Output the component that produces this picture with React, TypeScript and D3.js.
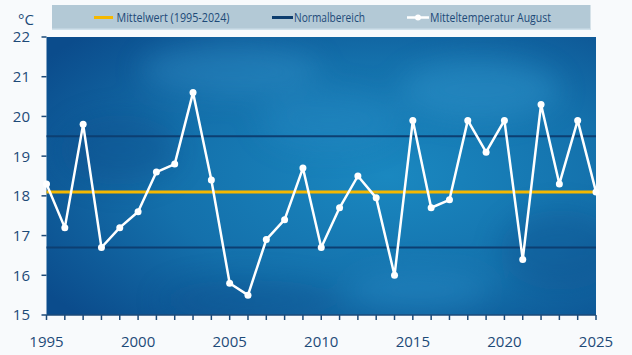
import React from "react";
import * as d3 from "d3";

const years = [1995,1996,1997,1998,1999,2000,2001,2002,2003,2004,2005,2006,2007,2008,2009,2010,2011,2012,2013,2014,2015,2016,2017,2018,2019,2020,2021,2022,2023,2024,2025];
const temps = [18.3,17.2,19.8,16.7,17.2,17.6,18.6,18.8,20.6,18.4,15.8,15.5,16.9,17.4,18.7,16.7,17.7,18.5,17.95,16.0,19.9,17.7,17.9,19.9,19.1,19.9,16.4,20.3,18.3,19.9,18.1];
const meanValue = [18.1];
const normalRange = [16.7, 19.5];
const yTicks = [15,16,17,18,19,20,21,22];
const xLabelTicks = [1995,2000,2005,2010,2015,2020,2025];
const legendLabels = ["Mittelwert (1995-2024)", "Normalbereich", "Mitteltemperatur August"];

const W = 632, H = 355;
const L = 46.5, R = 596, T = 37, B = 315;
const navy = "#1d4a78";

export default function App() {
  const x = d3.scaleLinear().domain([1995, 2025]).range([L, R]);
  const y = d3.scaleLinear().domain([15, 22]).range([B, T]);
  const line = d3.line<number>().x((_, i) => x(years[i])).y(d => y(d));
  const pts = temps.map((t, i) => [x(years[i]), y(t)]);

  return (
    <div style={{ position: "fixed", left: 0, top: 0 }}>
      <svg width={W} height={H} style={{ display: "block", fontFamily: "'Open Sans', sans-serif" }}>
        <defs>
          <radialGradient id="bg" cx="0.62" cy="0.5" r="0.75">
            <stop offset="0" stopColor="#1a88c0" />
            <stop offset="0.55" stopColor="#1470ab" />
            <stop offset="1" stopColor="#0b4c8c" />
          </radialGradient>
          <filter id="blur" x="-50%" y="-50%" width="200%" height="200%">
            <feGaussianBlur stdDeviation="14" />
          </filter>
          <clipPath id="plot">
            <rect x={L} y={T} width={R - L} height={B - T} />
          </clipPath>
        </defs>
        <rect x={0} y={0} width={W} height={H} fill="#f8fafc" />
        {/* legend */}
        <rect x={52} y={5} width={538.5} height={25} fill="#b3c9d6" />
        <rect x={52} y={28.5} width={538.5} height={1.5} fill="#cfe0ea" />
        <line x1={94} x2={113} y1={17.5} y2={17.5} stroke="#f5b800" strokeWidth={3} />
        <text x={116.5} y={21.5} fontSize={12} fill={navy} textLength={113} lengthAdjust="spacingAndGlyphs">{legendLabels[0]}</text>
        <line x1={272} x2={293} y1={17.5} y2={17.5} stroke="#0d3d6e" strokeWidth={3} />
        <text x={294} y={21.5} fontSize={12} fill={navy} textLength={71} lengthAdjust="spacingAndGlyphs">{legendLabels[1]}</text>
        <line x1={407} x2={429} y1={17.5} y2={17.5} stroke="#ffffff" strokeWidth={2.5} />
        <circle cx={418} cy={17.5} r={3} fill="#ffffff" />
        <text x={430} y={21.5} fontSize={12} fill={navy} textLength={121} lengthAdjust="spacingAndGlyphs">{legendLabels[2]}</text>

        {/* plot background */}
        <rect x={L} y={T} width={R - L} height={B - T} fill="url(#bg)" />
        <g clipPath="url(#plot)" filter="url(#blur)" opacity={0.35}>
          <ellipse cx={230} cy={70} rx={90} ry={25} fill="#3a9ad0" />
          <ellipse cx={330} cy={120} rx={70} ry={30} fill="#2b8ec8" />
          <ellipse cx={480} cy={90} rx={80} ry={30} fill="#3aa0d6" />
          <ellipse cx={120} cy={150} rx={60} ry={35} fill="#0a4a86" />
          <ellipse cx={560} cy={250} rx={60} ry={40} fill="#0a4a86" />
          <ellipse cx={420} cy={290} rx={70} ry={20} fill="#2f92cc" />
          <ellipse cx={250} cy={300} rx={90} ry={20} fill="#0b4f8c" />
        </g>
        {normalRange.map((v, i) => (
          <line key={i} x1={L} x2={R} y1={y(v)} y2={y(v)} stroke="#0c3f72" strokeWidth={2} />
        ))}
        <line x1={L} x2={R} y1={y(meanValue[0])} y2={y(meanValue[0])} stroke="#f5b800" strokeWidth={3} />
        <path d={line(temps) || ""} fill="none" stroke="#ffffff" strokeWidth={2.5} strokeLinejoin="round" />
        {pts.map((p, i) => (
          <circle key={i} cx={p[0]} cy={p[1]} r={3.5} fill="#ffffff" />
        ))}

        {/* axes */}
        <line x1={L} x2={R} y1={B} y2={B} stroke={navy} strokeWidth={1.5} />
        {years.map(yr => (
          <line key={yr} x1={x(yr)} x2={x(yr)} y1={B} y2={B + 5} stroke={navy} strokeWidth={1.5} />
        ))}
        {yTicks.map(t => (
          <line key={t} x1={L - 5} x2={L} y1={y(t)} y2={y(t)} stroke={navy} strokeWidth={1.5} />
        ))}
        {yTicks.map(t => (
          <text key={t} x={30} y={y(t)} dy="0.36em" textAnchor="end" fontSize={15} fill={navy}>{t}</text>
        ))}
        {xLabelTicks.map(t => (
          <text key={t} x={x(t)} y={347} textAnchor="middle" fontSize={15} fill={navy}>{t}</text>
        ))}
        <text x={26} y={25} textAnchor="middle" fontSize={15} fill={navy}>°C</text>
      </svg>
    </div>
  );
}
